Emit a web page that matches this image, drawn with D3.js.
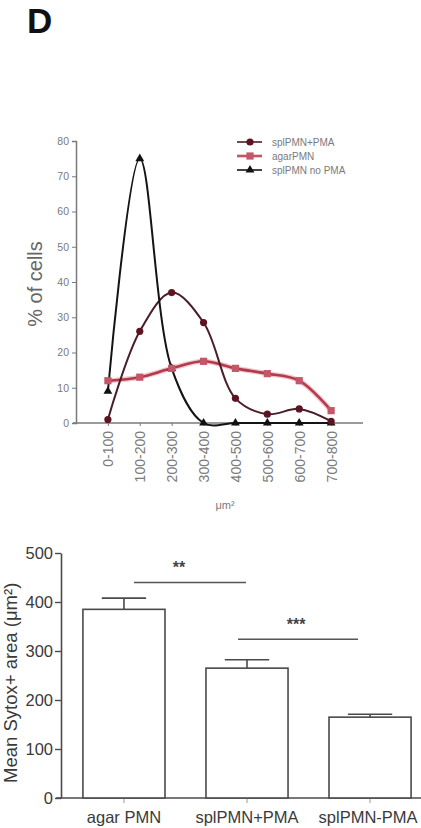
<!DOCTYPE html>
<html>
<head>
<meta charset="utf-8">
<script src="https://cdn.jsdelivr.net/npm/d3@7"></script>
<style>
  body { margin: 0; background: #fff; }
  svg { display: block; font-family: Arial, "Liberation Sans", sans-serif; }
</style>
</head>
<body>
<div id="chart"></div>
<script>
// ---- data: size distribution (top) ----
const bins = ['0-100', '100-200', '200-300', '300-400', '400-500', '500-600', '600-700', '700-800'];
const spPMA = [1, 26, 37, 28.5, 7, 2.5, 4, 0.5];
const agarPMN = [12, 13, 15.5, 17.5, 15.5, 14, 12, 3.5];
const spNoPMA = [9, 75, 15.5, 0, 0, 0, 0, 0];
const topTicks = [0, 10, 20, 30, 40, 50, 60, 70, 80];

// ---- data: mean sytox area (bottom) ----
const groups = ['agar PMN', 'splPMN+PMA', 'splPMN-PMA'];
const means = [385, 265, 165];
const sems = [23, 17, 6];
const bottomTicks = [0, 100, 200, 300, 400, 500];
const sigLabels = ['**', '***'];
const sigPairs = [[0, 1], [1, 2]];
const sigLevels = [440, 324];

const W = 421, H = 828;
const svg = d3.select('#chart').append('svg').attr('width', W).attr('height', H);

svg.append('text').text('D')
  .attr('x', 27).attr('y', 33)
  .attr('font-size', 35).attr('font-weight', 'bold').attr('fill', '#111');

/////////////////////////////////////////////////////////
/////////////////// Top: line chart /////////////////////
/////////////////////////////////////////////////////////
const x1 = d3.scaleLinear().domain([-1, 8]).range([76, 363]);
const y1 = d3.scaleLinear().domain([0, 80]).range([423, 141]);
const axisGrey = '#7a7a7a';

const yAx1 = svg.append('g').attr('transform', 'translate(76,0)')
  .style('color', axisGrey)
  .call(d3.axisLeft(y1).tickValues(topTicks).tickSize(4).tickPadding(3));
yAx1.select('.domain').attr('stroke-width', 1.5);
yAx1.selectAll('.tick text').style('font-size', '10.5px').style('fill', '#7a7a7a')
  .style('font-family', 'Arial, "Liberation Sans", sans-serif');

const xAx1 = svg.append('g').attr('transform', 'translate(0,423)')
  .style('color', axisGrey)
  .call(d3.axisBottom(x1).tickValues(d3.range(bins.length)).tickFormat(i => bins[i]).tickSize(3).tickSizeOuter(0));
xAx1.select('.domain').attr('stroke-width', 1.5)
  .attr('d', 'M' + (x1(-1) - 3) + ',0H' + x1(8));
xAx1.selectAll('.tick text')
  .style('font-size', '14px').style('fill', '#7a7a7a')
  .style('font-family', 'Arial, "Liberation Sans", sans-serif')
  .attr('text-anchor', 'end')
  .attr('transform', 'rotate(-90)')
  .attr('x', -8).attr('y', 0).attr('dy', '0.35em');

svg.append('text').text('μm²')
  .attr('x', 225).attr('y', 509).attr('text-anchor', 'middle')
  .style('font-size', '11px').style('fill', '#7a7a7a');

svg.append('text').text('% of cells')
  .attr('transform', 'translate(42,284) rotate(-90)')
  .attr('text-anchor', 'middle')
  .style('font-size', '20px').style('fill', '#666');

const line1 = d3.line().x((d, i) => x1(i)).y(d => y1(d)).curve(d3.curveCatmullRom.alpha(0.5));

const series = [
  {name: 'agarPMN', values: agarPMN, color: '#b23a4c', width: 2.6, marker: 'square', mcolor: '#c4566a', halo: '#f2c6cc'},
  {name: 'splPMN+PMA', values: spPMA, color: '#4a1e27', width: 2, marker: 'circle', mcolor: '#5c1424'},
  {name: 'splPMN no PMA', values: spNoPMA, color: '#141414', width: 2, marker: 'triangle', mcolor: '#111'}
];

series.forEach(s => {
  if (s.halo) {
    svg.append('path').datum(s.values).attr('d', line1)
      .attr('fill', 'none').attr('stroke', s.halo).attr('stroke-width', s.width + 2.5);
  }
  svg.append('path').datum(s.values).attr('d', line1)
    .attr('fill', 'none').attr('stroke', s.color).attr('stroke-width', s.width);
});

function drawMarker(g, type, cx, cy, color) {
  if (type === 'circle') {
    g.append('circle').attr('cx', cx).attr('cy', cy).attr('r', 3.6).attr('fill', color);
  } else if (type === 'square') {
    g.append('rect').attr('x', cx - 3.6).attr('y', cy - 3.6).attr('width', 7.2).attr('height', 7.2)
      .attr('fill', color);
  } else {
    g.append('path').attr('d', d3.symbol(d3.symbolTriangle, 34)())
      .attr('transform', 'translate(' + cx + ',' + cy + ')').attr('fill', color);
  }
}

const markers = svg.append('g');
// black first, then red squares, then maroon circles on top
[series[2], series[0], series[1]].forEach(s => {
  s.values.forEach((v, i) => drawMarker(markers, s.marker, x1(i), y1(v), s.mcolor));
});

// legend
const legendOrder = [series[1], series[0], series[2]];
const legend = svg.append('g');
legendOrder.forEach((s, i) => {
  const ly = 142 + i * 14;
  if (s.halo) {
    legend.append('line').attr('x1', 237).attr('x2', 262).attr('y1', ly).attr('y2', ly)
      .attr('stroke', s.halo).attr('stroke-width', 4);
  }
  legend.append('line').attr('x1', 237).attr('x2', 262).attr('y1', ly).attr('y2', ly)
    .attr('stroke', s.color).attr('stroke-width', 1.6);
  drawMarker(legend, s.marker, 250, ly, s.mcolor);
  legend.append('text').text(s.name).attr('x', 272).attr('y', ly).attr('dy', '0.35em')
    .style('font-size', '10px').style('fill', '#7a7a7a');
});

/////////////////////////////////////////////////////////
/////////////////// Bottom: bar chart ////////////////////
/////////////////////////////////////////////////////////
const x2 = d3.scaleBand().domain(groups).range([62, 432]).paddingInner(0.333).paddingOuter(0.17);
const y2 = d3.scaleLinear().domain([0, 500]).range([798, 553]);
const dark = '#4a4a4a';

const yAx2 = svg.append('g').attr('transform', 'translate(61,0)')
  .style('color', dark)
  .call(d3.axisLeft(y2).tickValues(bottomTicks).tickSize(6).tickPadding(2).tickSizeOuter(0));
yAx2.select('.domain').attr('stroke-width', 1.6);
yAx2.selectAll('.tick line').attr('stroke-width', 1.4);
yAx2.selectAll('.tick text').style('font-size', '16.5px').style('fill', '#3a3a3a')
  .style('font-family', 'Arial, "Liberation Sans", sans-serif');

const xAx2 = svg.append('g').attr('transform', 'translate(0,798)')
  .style('color', dark)
  .call(d3.axisBottom(x2).tickSize(5).tickSizeOuter(0).tickPadding(8));
xAx2.select('.domain').attr('stroke-width', 1.6).attr('d', 'M56,0H421');
xAx2.selectAll('.tick line').attr('stroke', '#999').attr('stroke-width', 1);
xAx2.selectAll('.tick text').style('font-size', '16.5px').style('fill', '#3a3a3a')
  .style('font-family', 'Arial, "Liberation Sans", sans-serif')
  .attr('dy', '0.75em');
// keep the last label inside the page
xAx2.selectAll('.tick text').filter(d => d === groups[2]).attr('x', -2);

svg.append('text').text('Mean Sytox+ area (μm²)')
  .attr('transform', 'translate(17,783) rotate(-90)')
  .attr('text-anchor', 'start')
  .style('font-size', '18.5px').style('fill', '#3a3a3a');

const bars = svg.append('g');
groups.forEach((g, i) => {
  const bx = x2(g), bw = x2.bandwidth(), cx = bx + bw / 2;
  bars.append('line').attr('x1', cx).attr('x2', cx)
    .attr('y1', y2(means[i])).attr('y2', y2(means[i] + sems[i]))
    .attr('stroke', dark).attr('stroke-width', 1.6);
  bars.append('line').attr('x1', cx - bw * 0.27).attr('x2', cx + bw * 0.27)
    .attr('y1', y2(means[i] + sems[i])).attr('y2', y2(means[i] + sems[i]))
    .attr('stroke', dark).attr('stroke-width', 1.6);
  bars.append('rect').attr('x', bx).attr('y', y2(means[i]))
    .attr('width', bw).attr('height', y2(0) - y2(means[i]))
    .attr('fill', '#fff').attr('stroke', dark).attr('stroke-width', 1.6);
});

// significance lines: start just right of the first bar centre, end short of the second
const sigStart = [10, -9];
const sigEnd = [-1, -12];
const sigTextShift = [-11, -2];
sigPairs.forEach((p, k) => {
  const half = x2.bandwidth() / 2;
  const a = x2(groups[p[0]]) + half + sigStart[k];
  const b = x2(groups[p[1]]) + half + sigEnd[k];
  bars.append('line').attr('x1', a).attr('x2', b).attr('y1', y2(sigLevels[k])).attr('y2', y2(sigLevels[k]))
    .attr('stroke', '#555').attr('stroke-width', 1.5);
  bars.append('text').text(sigLabels[k]).attr('x', (a + b) / 2 + sigTextShift[k]).attr('y', y2(sigLevels[k]) - 9)
    .attr('text-anchor', 'middle').style('font-size', '16px').style('font-weight', 'bold').style('fill', '#444');
});
</script>
</body>
</html>
